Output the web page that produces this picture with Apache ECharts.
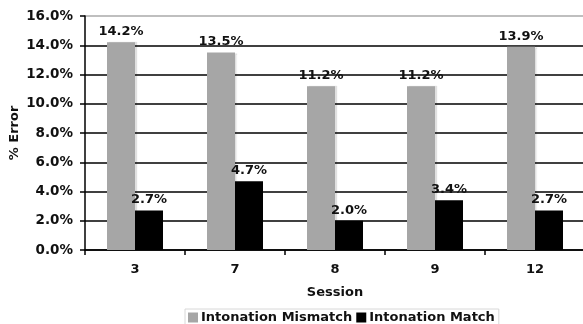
<!DOCTYPE html>
<html>
<head>
<meta charset="utf-8">
<script src="https://cdn.jsdelivr.net/npm/echarts@6/dist/echarts.min.js"></script>
<style>
  html, body { margin: 0; padding: 0; background: #fff; }
  #chart { width: 583px; height: 324px; }
</style>
</head>
<body>
<div id="chart"></div>
<script>
// Error rate per session, intonation mismatch vs. match
const sessions = ['3', '7', '8', '9', '12'];
const mismatchValues = [14.2, 13.5, 11.2, 11.2, 13.9];
const matchValues = [2.7, 4.7, 2.0, 3.4, 2.7];
const seriesNames = ['Intonation Mismatch', 'Intonation Match'];

const FONT = 'DejaVu Sans';
const pct = v => v.toFixed(1) + '%';

const chart = echarts.init(document.getElementById('chart'), null, { renderer: 'canvas' });

const labelStyle = {
  show: true,
  position: 'top',
  distance: 4,
  fontFamily: FONT,
  fontWeight: 'bold',
  fontSize: 13,
  color: '#111',
  formatter: p => pct(p.value)
};

chart.setOption({
  animation: false,
  backgroundColor: '#fff',
  textStyle: { fontFamily: FONT },
  grid: {
    left: 85, top: 16, width: 500, height: 234,
    containLabel: false,
    outerBoundsMode: 'none'
  },
  legend: {
    left: 185,
    top: 309,
    itemWidth: 10,
    itemHeight: 10,
    itemGap: 4,
    padding: [2, 4, 6, 3],
    borderColor: '#d8d8d8',
    borderWidth: 1,
    icon: 'rect',
    textStyle: { fontFamily: FONT, fontWeight: 'bold', fontSize: 13, color: '#111', padding: [0, 0, 0, -2] },
    data: seriesNames
  },
  xAxis: {
    type: 'category',
    data: sessions,
    name: 'Session',
    nameLocation: 'middle',
    nameGap: 36,
    nameMoveOverlap: false,
    nameTextStyle: { fontFamily: FONT, fontWeight: 'bold', fontSize: 13, color: '#111' },
    axisLine: { lineStyle: { color: '#000', width: 1.5 } },
    axisTick: { show: true, length: 5, lineStyle: { color: '#000', width: 1.5 } },
    axisLabel: { margin: 13, fontFamily: FONT, fontWeight: 'bold', fontSize: 13, color: '#111' }
  },
  yAxis: {
    type: 'value',
    min: 0,
    max: 16,
    interval: 2,
    name: '% Error',
    nameLocation: 'middle',
    nameGap: 64,
    nameMoveOverlap: false,
    nameTextStyle: { fontFamily: FONT, fontWeight: 'bold', fontSize: 13, color: '#111' },
    axisLine: { show: true, lineStyle: { color: '#000', width: 1.5 } },
    axisTick: { show: true, length: 5, lineStyle: { color: '#000', width: 1.5 } },
    axisLabel: {
      margin: 12,
      fontFamily: FONT, fontWeight: 'bold', fontSize: 13.5, color: '#111',
      formatter: v => pct(v)
    },
    splitLine: {
      show: true,
      lineStyle: {
        color: ['#000', '#000', '#000', '#000', '#000', '#000', '#000', '#000', '#aaa'],
        width: 1.5
      }
    }
  },
  series: [
    {
      name: seriesNames[0],
      type: 'bar',
      data: mismatchValues,
      barWidth: 28,
      barGap: '0%',
      itemStyle: {
        color: '#a6a6a6',
        shadowColor: 'rgba(0,0,0,0.12)',
        shadowOffsetX: 2,
        shadowBlur: 1
      },
      label: labelStyle
    },
    {
      name: seriesNames[1],
      type: 'bar',
      data: matchValues,
      barWidth: 28,
      barGap: '0%',
      itemStyle: { color: '#000' },
      label: labelStyle
    }
  ]
});
</script>
</body>
</html>
